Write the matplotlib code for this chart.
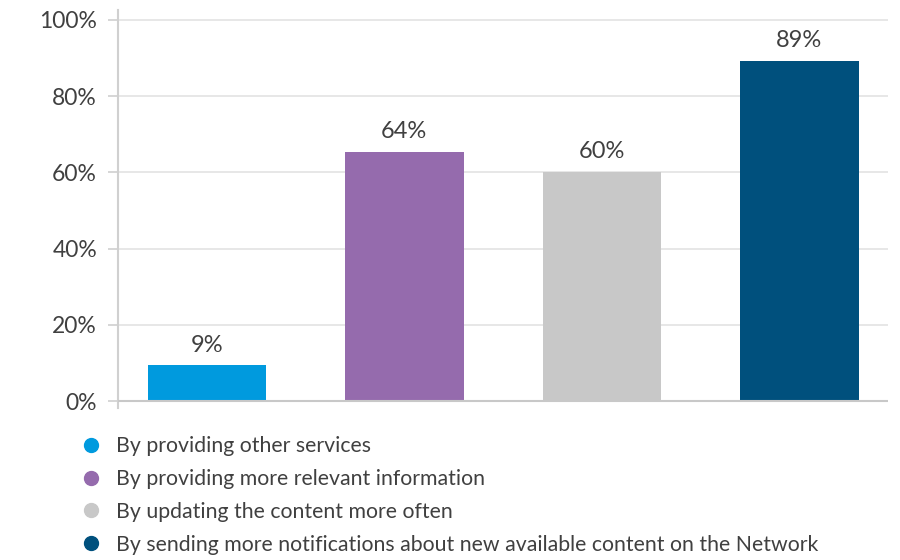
import matplotlib.pyplot as plt
from matplotlib.lines import Line2D

# values
categories = [
    "By providing other services",
    "By providing more relevant information",
    "By updating the content more often",
    "By sending more notifications about new available content on the Network",
]
values = [9.4, 65.3, 60.1, 89.2]
value_labels = ["9%", "64%", "60%", "89%"]
colors = ["#009ADE", "#956BAD", "#C8C8C8", "#00507D"]
yticks = [0, 20, 40, 60, 80, 100]

plt.rcParams['font.family'] = ['Lato', 'DejaVu Sans']
text_color = "#404040"

fig = plt.figure(figsize=(9, 5.6), dpi=100)
ax = fig.add_axes([0.131, 0.2714, 0.856, 0.7107])

x = list(range(len(values)))
bars = ax.bar(x, values, width=0.6, color=colors, zorder=3)

# labels above each bar
for rect, lab in zip(bars, value_labels):
    ax.annotate(lab, (rect.get_x() + rect.get_width() / 2, rect.get_height()),
                xytext=(0, 7), textcoords="offset points",
                ha="center", va="bottom", fontsize=17, color=text_color)

ax.set_xlim(-0.45, 3.45)
ax.set_ylim(-1.8, 102.6)
ax.set_yticks(yticks)
ax.set_yticklabels([f"{v}%" for v in yticks])
ax.set_xticks([])

ax.grid(axis="y", color="#E3E3E3", linewidth=1.2, zorder=0)
ax.axhline(0, color="#C8C8C8", linewidth=1.5, zorder=4)

for side in ["top", "right", "bottom"]:
    ax.spines[side].set_visible(False)
ax.spines["left"].set_color("#D0D0D0")
ax.spines["left"].set_linewidth(1.5)

ax.tick_params(axis="y", length=7, width=1.2, color="#D0D0D0",
               labelsize=16.5, labelcolor=text_color, pad=8)

# legend with round markers below the chart
handles = [Line2D([], [], marker="o", linestyle="", markersize=10,
                  markerfacecolor=c, markeredgecolor=c) for c in colors]
fig.legend(handles, categories, loc="upper left",
           bbox_to_anchor=(0.080, 0.236), frameon=False,
           fontsize=15.3, labelcolor=text_color, handletextpad=0.68,
           labelspacing=0.6, handlelength=1.0, borderaxespad=0)

fig.savefig("out.png", dpi=100)
